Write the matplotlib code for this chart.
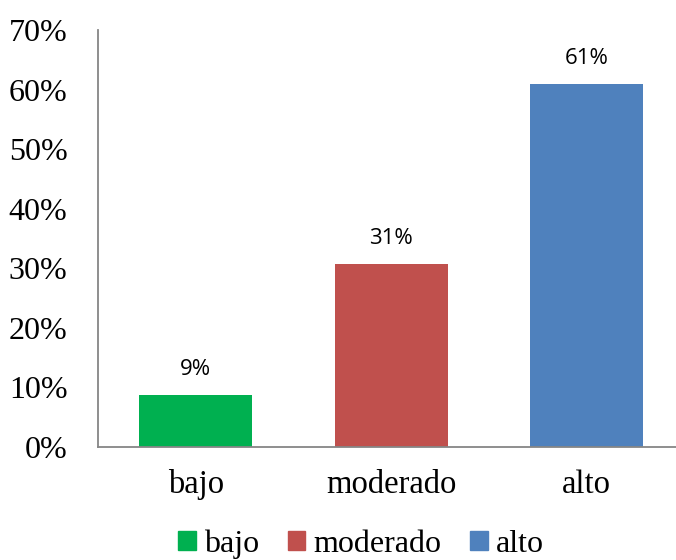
import matplotlib.pyplot as plt
from matplotlib.patches import Patch

categories = ['bajo', 'moderado', 'alto']
values = [8.7, 30.7, 60.9]
labels = ['9%', '31%', '61%']
colors = ['#00B050', '#C0504D', '#4F81BD']
yticks = [0, 10, 20, 30, 40, 50, 60, 70]

fig = plt.figure(figsize=(6.76, 5.6), dpi=100)
ax = fig.add_axes([98 / 676, 113 / 560, 586.5 / 676, 417 / 560])

x = list(range(len(categories)))
ax.bar(x, values, width=0.58, color=colors)
ax.set_xlim(-0.5, 2.5)
ax.set_ylim(0, 70)
ax.set_yticks(yticks)
ax.set_yticklabels(['%d%%' % t for t in yticks], fontfamily='Liberation Serif', fontsize=23)
ax.set_xticks(x)
ax.set_xticklabels(categories, fontfamily='Liberation Serif', fontsize=23.5)
ax.tick_params(axis='both', length=0)
ax.tick_params(axis='x', pad=16)
ax.tick_params(axis='y', pad=22)

for s in ['top', 'right']:
    ax.spines[s].set_visible(False)
for s in ['left', 'bottom']:
    ax.spines[s].set_color('#868686')
    ax.spines[s].set_linewidth(1.3)

for xi, v, lab in zip(x, values, labels):
    ax.annotate(lab, (xi, v), xytext=(0, 11), textcoords='offset points',
                ha='center', va='bottom', fontfamily='Open Sans', fontsize=16)

handles = [Patch(color=c, label=n) for c, n in zip(colors, categories)]
fig.legend(handles=handles, loc='center', bbox_to_anchor=(361 / 676, 1 - 544 / 560),
           ncol=3, frameon=False, prop={'family': 'Liberation Serif', 'size': 23},
           handlelength=0.55, handleheight=0.55, handletextpad=0.25, columnspacing=0.9)

fig.savefig('out.png', dpi=100)
